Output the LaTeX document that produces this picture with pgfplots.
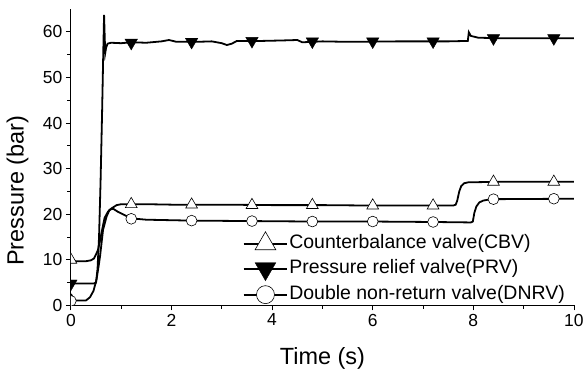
\documentclass[border=0pt]{standalone}
\usepackage{pgfplots}
\pgfplotsset{compat=1.18}
\usepackage{fontspec}
\setmainfont{Liberation Sans}
\begin{document}
\begin{tikzpicture}
\begin{axis}[
  scale only axis, width=504pt, height=297pt,
  xmin=0, xmax=10, ymin=0, ymax=65,
  axis lines*=left,
  axis line style={line width=0.8pt},
  xtick={0,2,4,6,8,10}, ytick={0,10,20,30,40,50,60},
  minor x tick num=1, minor y tick num=1,
  tick align=outside,
  major tick length=5pt, minor tick length=3.5pt,
  every tick/.style={black, line width=0.8pt},
  /pgf/number format/assume math mode=true,
  tick label style={font=\fontsize{17.5}{20}\selectfont},
  xlabel={Time (s)}, ylabel={Pressure (bar)},
  every axis x label/.style={at={(axis description cs:0.5,-0.1987)}, anchor=base, font=\fontsize{23.5}{27}\selectfont},
  every axis y label/.style={at={(axis description cs:-0.106,0.387)}, rotate=90, anchor=center, font=\fontsize{23.5}{27}\selectfont},
  clip marker paths=true,
  legend cell align=left,
  legend style={draw=none, fill=none, at={(0.335,-0.008)}, anchor=south west,
    font=\fontsize{19.5}{22}\selectfont, row sep=3pt,
    nodes={inner sep=1pt, text height=15pt, text depth=5pt}},
]
% CBV line
\addplot[black, line width=1.8pt, forget plot] coordinates {
(0,11.0) (0.03,10.0) (0.1,9.7) (0.3,9.7) (0.4,9.9) (0.46,10.3) (0.5,11.2) (0.54,12.2) (0.58,14.2) (0.61,16.0) (0.67,19.2) (0.74,20.6) (0.81,21.3) (0.91,22.0) (1.0,22.2) (1.5,22.2) (2.0,22.1) (3.0,22.1) (4.0,22.0) (5.0,22.0) (6.0,21.9) (7.0,21.9) (7.6,21.9) (7.65,22.1) (7.68,23.0) (7.72,25.0) (7.76,26.2) (7.82,26.8) (7.9,27.0) (8.5,27.1) (10,27.1)
};
% PRV line
\addplot[black, line width=1.8pt, forget plot] coordinates {
(0,5.5) (0.03,4.9) (0.1,4.8) (0.45,4.8) (0.5,5.0) (0.53,8) (0.56,15) (0.59,27) (0.62,42) (0.645,56) (0.66,63.7) (0.675,58) (0.685,55.5) (0.7,56.5) (0.73,57.4) (0.8,57.6) (1.0,57.5) (1.2,57.7) (1.5,57.6) (1.8,57.9) (1.95,58.2) (2.1,57.8) (2.5,57.8) (2.8,57.9) (3.0,57.5) (3.1,57.1) (3.2,57.4) (3.3,58.0) (3.8,58.0) (4.2,58.1) (4.5,58.2) (4.6,57.7) (5.0,57.9) (5.5,57.8) (6.5,57.9) (7.5,57.9) (7.89,58.0) (7.91,59.9) (7.95,59.1) (8.1,58.7) (8.5,58.6) (10,58.6)
};
% DNRV line
\addplot[black, line width=1.8pt, forget plot] coordinates {
(0,2.5) (0.05,1.5) (0.1,1.1) (0.3,1.1) (0.38,1.8) (0.45,3.2) (0.51,5.7) (0.55,8.5) (0.58,10.8) (0.64,16.6) (0.71,19.5) (0.77,21.0) (0.84,21.2) (0.94,20.5) (1.07,19.8) (1.2,19.1) (1.5,18.8) (2.4,18.6) (3.6,18.5) (4.8,18.4) (6.0,18.4) (7.2,18.3) (7.95,18.2) (7.99,18.4) (8.02,20.3) (8.06,21.7) (8.12,22.6) (8.2,23.0) (8.35,23.3) (10,23.4)
};
% markers
\addplot[black, only marks, mark=triangle*, mark size=6.8pt, mark options={fill=white, line width=0.6pt},
  legend image code/.code={
    \draw[line width=1.8pt] (0pt,0pt) -- (44pt,0pt);
    \draw[mark size=12pt] plot coordinates {(22pt,0pt)};}]
coordinates {(0,10) (1.2,22.2) (2.4,22.1) (3.6,22.0) (4.8,22.0) (6.0,21.9) (7.2,21.9) (8.4,27.1) (9.6,27.1)};
\addlegendentry{Counterbalance valve(CBV)}
\addplot[black, only marks, mark=triangle*, mark size=7.2pt, mark options={rotate=180, fill=black},
  legend image code/.code={
    \draw[line width=1.8pt] (0pt,0pt) -- (44pt,0pt);
    \draw[mark size=12pt] plot coordinates {(22pt,0pt)};}]
coordinates {(0,4.8) (1.2,57.6) (2.4,57.8) (3.6,58.0) (4.8,57.9) (6.0,57.9) (7.2,57.9) (8.4,58.6) (9.6,58.6)};
\addlegendentry{Pressure relief valve(PRV)}
\addplot[black, only marks, mark=*, mark size=5.4pt, mark options={fill=white, line width=0.6pt},
  legend image code/.code={
    \draw[line width=1.8pt] (0pt,0pt) -- (44pt,0pt);
    \draw[mark size=9pt] plot coordinates {(22pt,0pt)};}]
coordinates {(0,1.0) (1.2,19.0) (2.4,18.6) (3.6,18.5) (4.8,18.4) (6.0,18.4) (7.2,18.3) (8.4,23.3) (9.6,23.4)};
\addlegendentry{Double non-return valve(DNRV)}
\end{axis}
\path (-71pt,-65pt) rectangle (516pt,306pt);
\end{tikzpicture}
\end{document}
